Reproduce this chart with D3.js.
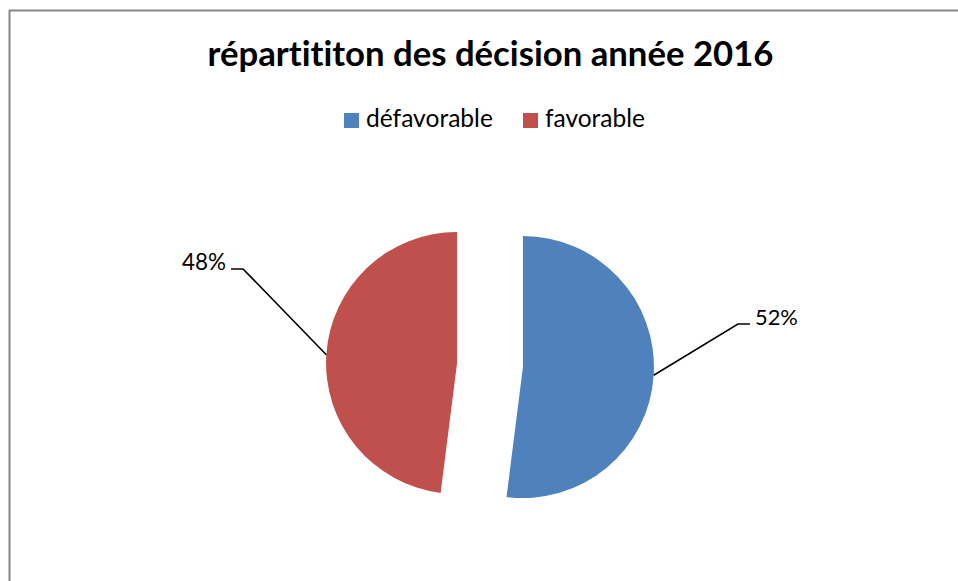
<!DOCTYPE html>
<html>
<head>
<meta charset="utf-8">
<script src="https://cdn.jsdelivr.net/npm/d3@7"></script>
<style>
  html, body { margin: 0; padding: 0; background: #fff; }
  svg { display: block; }
  text { font-family: Lato, "Open Sans", sans-serif; font-variant-ligatures: none; font-feature-settings: "liga" 0, "clig" 0; }
</style>
</head>
<body>
<svg id="chart" width="958" height="581"></svg>
<script>
// ---- data ----
const title = "répartititon des décision année 2016";
const categories = ["défavorable", "favorable"];
const values = [52, 48];
const labels = ["52%", "48%"];
const colors = ["#4F81BD", "#C0504D"];

// ---- layout ----
const W = 958, H = 581;
const svg = d3.select("#chart");

// frame (cropped on right and bottom)
svg.append("rect")
  .attr("x", 9.5).attr("y", 10.5)
  .attr("width", 1000).attr("height", 700)
  .attr("fill", "#fff")
  .attr("stroke", "#878787").attr("stroke-width", 2);

function fitText(sel, targetWidth) {
  sel.style("font-size", "100px");
  const w = sel.node().getComputedTextLength();
  sel.style("font-size", (100 * targetWidth / w) + "px");
  return sel;
}

// title
const t = svg.append("text")
  .attr("x", 490.5).attr("y", 66)
  .attr("text-anchor", "middle")
  .attr("font-weight", "bold")
  .attr("fill", "#000")
  .text(title);
fitText(t, 566);

// legend
const legendX = [344, 523];
const legendTextW = [127, 100];
const lg = svg.append("g");
categories.forEach((c, i) => {
  lg.append("rect")
    .attr("x", legendX[i]).attr("y", 113)
    .attr("width", 15).attr("height", 15)
    .attr("fill", colors[i]);
  const tx = lg.append("text")
    .attr("x", legendX[i] + 22).attr("y", 127)
    .attr("fill", "#000")
    .text(c);
  fitText(tx, legendTextW[i]);
});

// pie
const cx = 490, cy = 365, r = 131, explode = 33;
const pie = d3.pie().sort(null).value(d => d)(values);
const arc = d3.arc().innerRadius(0).outerRadius(r);

// label elbow offsets relative to each slice's centre (layout)
const elbow = [[215, -43], [-214, -94]];
const tick = [12, -12];
const labelW = [43, 44];

pie.forEach((p, i) => {
  const mid = (p.startAngle + p.endAngle) / 2;
  const ox = cx + explode * Math.sin(mid);
  const oy = cy - explode * Math.cos(mid);
  const g = svg.append("g").attr("transform", `translate(${ox},${oy})`);
  g.append("path").attr("d", arc(p)).attr("fill", colors[i]);

  const sx = r * Math.sin(mid), sy = -r * Math.cos(mid);
  const ex = elbow[i][0], ey = elbow[i][1];
  g.append("polyline")
    .attr("points", `${sx},${sy} ${ex},${ey} ${ex + tick[i]},${ey}`)
    .attr("fill", "none").attr("stroke", "#000").attr("stroke-width", 1.6);
  const lt = g.append("text")
    .attr("x", ex + tick[i] + (tick[i] > 0 ? 5 : -5))
    .attr("y", ey + 1)
    .attr("text-anchor", tick[i] > 0 ? "start" : "end")
    .attr("fill", "#000")
    .text(labels[i]);
  fitText(lt, labelW[i]);
});
</script>
</body>
</html>
